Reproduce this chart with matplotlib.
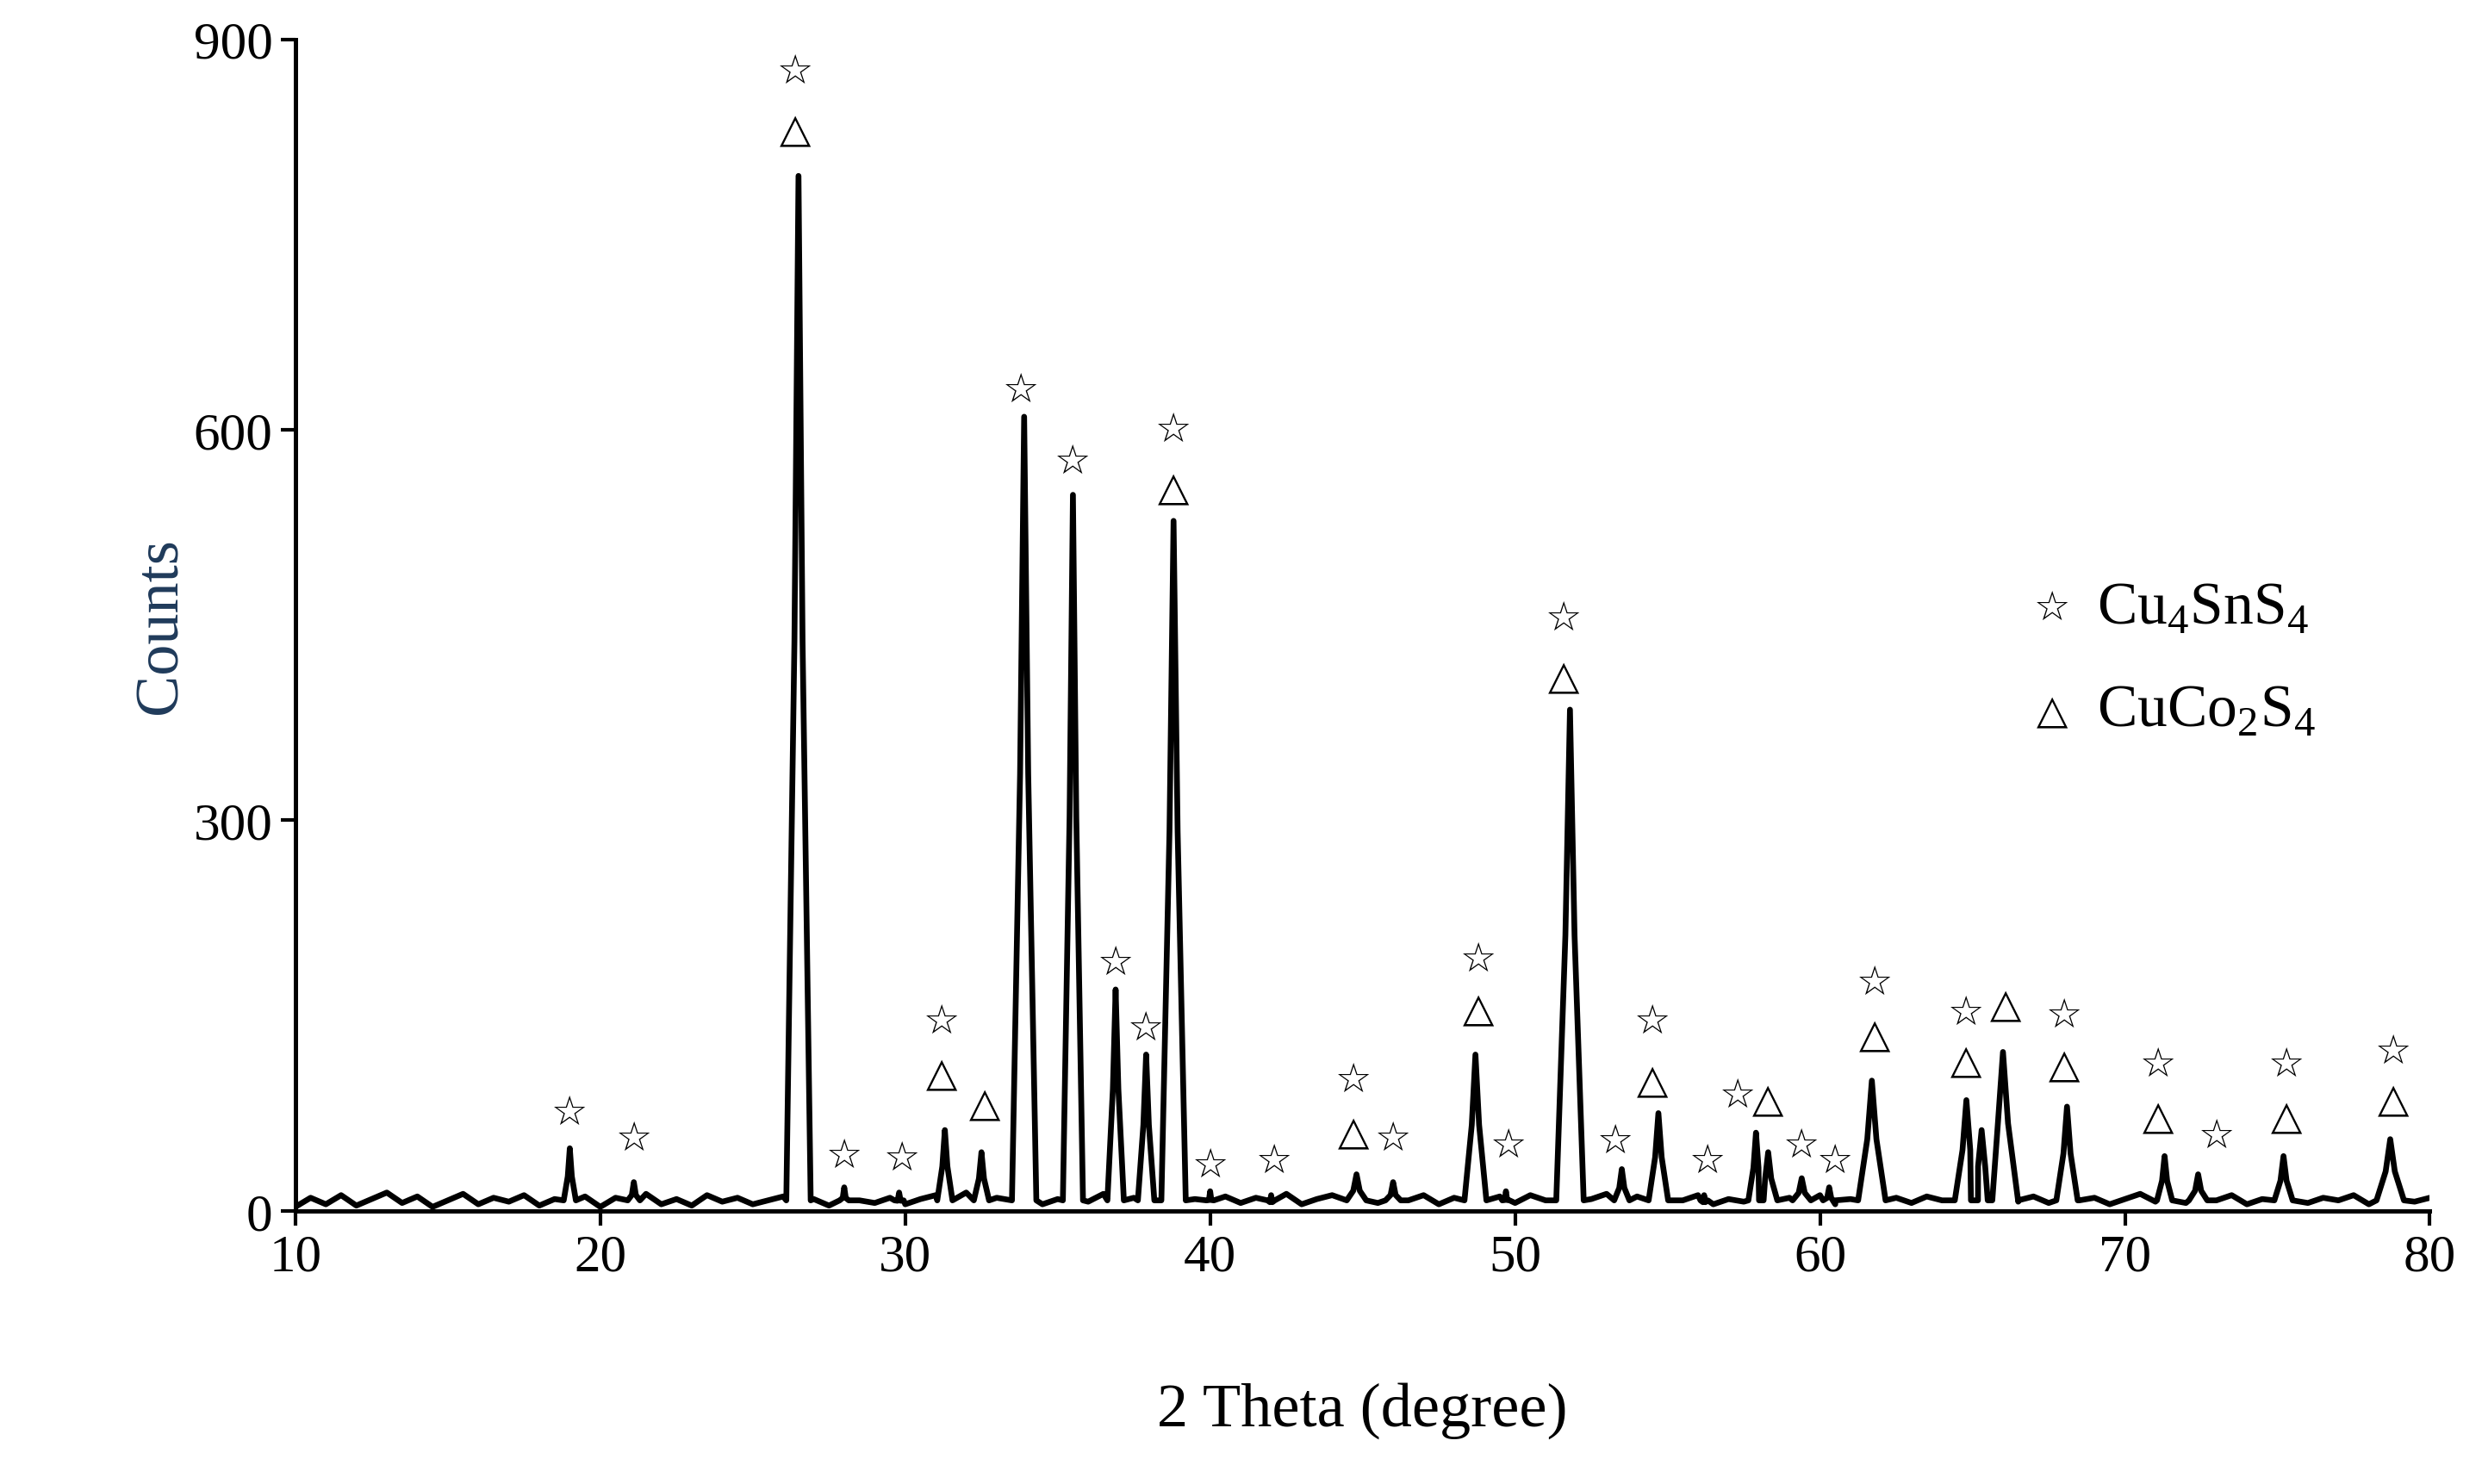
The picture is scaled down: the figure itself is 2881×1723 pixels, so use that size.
import matplotlib
matplotlib.use("Agg")
import matplotlib.pyplot as plt
import numpy as np

plt.rcParams['font.family'] = ['Liberation Serif', 'DejaVu Sans']
plt.rcParams['mathtext.fontset'] = 'custom'
plt.rcParams['mathtext.rm'] = 'Liberation Serif'

# peak positions / heights / half widths (degree)
peak_x = [19.0, 21.1, 26.5, 28.0, 29.8, 31.3, 32.5, 33.9, 35.5, 36.9, 37.9, 38.8, 40.0, 42.0,
          44.8, 46.0, 48.7, 49.7, 51.8, 53.5, 54.7, 56.2, 57.9, 58.3, 59.4, 60.3, 61.7, 64.8,
          65.3, 66.0, 68.1, 71.3, 72.4, 75.2, 78.7]
peak_h = [48, 22, 795, 18, 14, 62, 45, 610, 550, 170, 120, 530, 15, 12,
          28, 22, 120, 15, 385, 32, 75, 12, 60, 45, 25, 18, 100, 85,
          62, 122, 80, 42, 28, 42, 55]
peak_w = [0.2, 0.2, 0.4, 0.15, 0.15, 0.25, 0.25, 0.4, 0.33, 0.27, 0.27, 0.4, 0.12, 0.12,
          0.32, 0.25, 0.36, 0.12, 0.45, 0.25, 0.32, 0.12, 0.25, 0.3, 0.3, 0.2, 0.45, 0.38,
          0.35, 0.5, 0.35, 0.25, 0.3, 0.3, 0.45]
# baseline counts every 0.5 degree from 10 to 80
base_y = [3, 10, 5, 12, 4, 9, 14, 6, 11, 3, 8, 13, 5, 10, 7, 12, 4, 9, 6, 11,
          3, 10, 8, 13, 5, 9, 4, 12, 7, 10, 5, 8, 11, 6, 9, 4, 12, 8, 6, 10,
          5, 9, 12, 7, 14, 6, 10, 8, 12, 5, 9, 11, 7, 13, 6, 10, 8, 12, 5, 9,
          7, 11, 6, 10, 8, 13, 5, 9, 12, 7, 10, 6, 11, 8, 12, 5, 10, 9, 7, 11,
          6, 12, 8, 10, 5, 9, 13, 7, 11, 6, 10, 8, 12, 5, 9, 7, 11, 6, 10, 8,
          12, 5, 9, 13, 7, 10, 6, 11, 8, 12, 5, 10, 9, 7, 11, 6, 12, 8, 10, 5,
          9, 13, 7, 11, 6, 10, 8, 12, 5, 9, 7, 11, 6, 10, 8, 12, 5, 9, 13, 7, 10]

# phase markers: x, star y (None if absent), triangle y (None if absent)
mark_x = [19.0, 21.1, 26.4, 28.0, 29.9, 31.2, 32.6, 33.8, 35.5, 36.9, 37.9, 38.8, 40.0, 42.1,
          44.7, 46.0, 48.8, 49.8, 51.6, 53.3, 54.5, 56.3, 57.3, 58.3, 59.4, 60.5, 61.8, 64.8,
          66.1, 68.0, 71.1, 73.0, 75.3, 78.8]
star_y = [75, 55, 875, 42, 40, 145, None, 630, 575, 190, 140, 600, 35, 38,
          100, 55, 193, 50, 455, 53, 145, 38, 88, None, 50, 38, 175, 152,
          None, 150, 112, 57, 112, 122]
tri_y = [None, None, 830, None, None, 105, 82, None, None, None, None, 555, None, None,
         60, None, 155, None, 410, None, 100, None, None, 85, None, None, 135, 115,
         158, 112, 72, None, 72, 85]

fig = plt.figure(figsize=(14.405, 8.62), dpi=200)
ax = fig.add_axes([0.119, 0.184, 0.86, 0.789])

bx = np.linspace(10, 80, len(base_y))
def inside(x):
    return any(abs(x - p) < w for p, w in zip(peak_x, peak_w))
pts = [(x, y) for x, y in zip(bx, base_y) if not inside(x)]
for x, h, w in zip(peak_x, peak_h, peak_w):
    pts += [(x - w, 8), (x - w / 3, h * 0.55), (x, h), (x + w / 3, h * 0.55), (x + w, 8)]
pts = sorted(set(pts))
xs, ys = zip(*pts)
ax.plot(xs, ys, color='black', lw=2.4)

mk = dict(ha='center', va='center', fontsize=17, family='DejaVu Sans')
for x, s, t in zip(mark_x, star_y, tri_y):
    if s is not None:
        ax.text(x, s, '☆', **mk)
    if t is not None:
        ax.text(x, t, '△', **mk)

ax.text(0.823, 0.514, '☆', transform=ax.transAxes, **mk)
ax.text(0.823, 0.426, '△', transform=ax.transAxes, **mk)
ax.text(0.844, 0.514, r'Cu$_\mathregular{4}$SnS$_\mathregular{4}$', transform=ax.transAxes, ha='left', va='center', fontsize=25)
ax.text(0.844, 0.426, r'CuCo$_\mathregular{2}$S$_\mathregular{4}$', transform=ax.transAxes, ha='left', va='center', fontsize=25)

ax.set_xlim(10, 80)
ax.set_ylim(0, 900)
ax.set_xticks(range(10, 81, 10))
ax.set_yticks([0, 300, 600, 900])
ax.tick_params(labelsize=22, width=1.5, length=6)
for s in ['top', 'right']:
    ax.spines[s].set_visible(False)
for s in ['left', 'bottom']:
    ax.spines[s].set_linewidth(1.8)
ax.set_xlabel('2 Theta (degree)', fontsize=26, labelpad=42)
ax.set_ylabel('Counts', fontsize=26, color='#1f3a5a', labelpad=2)

fig.savefig('out.png', dpi=200)
